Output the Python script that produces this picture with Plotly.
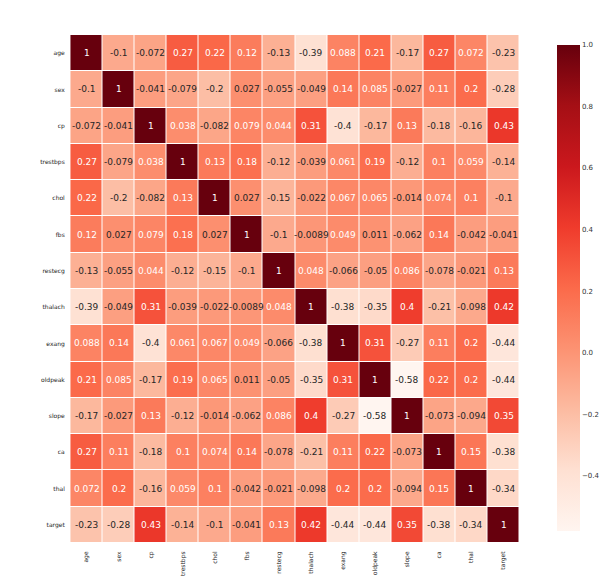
import plotly.graph_objects as go
import numpy as np

labels = ["age", "sex", "cp", "trestbps", "chol", "fbs", "restecg",
          "thalach", "exang", "oldpeak", "slope", "ca", "thal", "target"]

# upper-triangle rows (values to the right of the diagonal)
age      = [-0.1, -0.072, 0.27, 0.22, 0.12, -0.13, -0.39, 0.088, 0.21, -0.17, 0.27, 0.072, -0.23]
sex      = [-0.041, -0.079, -0.2, 0.027, -0.055, -0.049, 0.14, 0.085, -0.027, 0.11, 0.2, -0.28]
cp       = [0.038, -0.082, 0.079, 0.044, 0.31, -0.4, -0.17, 0.13, -0.18, -0.16, 0.43]
trestbps = [0.13, 0.18, -0.12, -0.039, 0.061, 0.19, -0.12, 0.1, 0.059, -0.14]
chol     = [0.027, -0.15, -0.022, 0.067, 0.065, -0.014, 0.074, 0.1, -0.1]
fbs      = [-0.1, -0.0089, 0.049, 0.011, -0.062, 0.14, -0.042, -0.041]
restecg  = [0.048, -0.066, -0.05, 0.086, -0.078, -0.021, 0.13]
thalach  = [-0.38, -0.35, 0.4, -0.21, -0.098, 0.42]
exang    = [0.31, -0.27, 0.11, 0.2, -0.44]
oldpeak  = [-0.58, 0.22, 0.2, -0.44]
slope    = [-0.073, -0.094, 0.35]
ca       = [0.15, -0.38]
thal     = [-0.34]

upper = [age, sex, cp, trestbps, chol, fbs, restecg, thalach, exang, oldpeak, slope, ca, thal, []]
n = len(labels)
M = np.eye(n)
for i, row in enumerate(upper):
    for k, v in enumerate(row):
        j = i + 1 + k
        M[i, j] = v
        M[j, i] = v

reds = ["#fff5f0", "#fee0d2", "#fcbba1", "#fc9272", "#fb6a4a",
        "#ef3b2c", "#cb181d", "#a50f15", "#67000d"]
colorscale = [[i / (len(reds) - 1), c] for i, c in enumerate(reds)]
zmin, zmax = float(M.min()), float(M.max())

def hex2rgb(h):
    return np.array([int(h[1:3], 16), int(h[3:5], 16), int(h[5:7], 16)]) / 255.0

stops = np.array([hex2rgb(c) for c in reds])

def cell_rgb(v):
    t = (v - zmin) / (zmax - zmin) * (len(reds) - 1)
    i = int(min(np.floor(t), len(reds) - 2))
    f = t - i
    return stops[i] * (1 - f) + stops[i + 1] * f

def lum(rgb):
    lin = np.where(rgb <= 0.03928, rgb / 12.92, ((rgb + 0.055) / 1.055) ** 2.4)
    return 0.2126 * lin[0] + 0.7152 * lin[1] + 0.0722 * lin[2]

fig = go.Figure(go.Heatmap(
    z=M, x=labels, y=labels, zmin=zmin, zmax=zmax,
    colorscale=colorscale, xgap=1, ygap=1, hoverongaps=False,
    colorbar=dict(
        thickness=23, len=506, lenmode="pixels", x=1.061, xanchor="left",
        y=1.0, yanchor="top", outlinewidth=0,
        tickvals=[-0.4, -0.2, 0.0, 0.2, 0.4, 0.6, 0.8, 1.0],
        ticktext=["\u22120.4", "\u22120.2", "0.0", "0.2", "0.4", "0.6", "0.8", "1.0"],
        ticks="", tickfont=dict(size=7, color="#333333", family="DejaVu Sans"),
    ),
))

annotations = []
for i in range(n):
    for j in range(n):
        v = M[i, j]
        txt = format(v, ".2g")
        col = "#262626" if lum(cell_rgb(v)) > 0.408 else "#ffffff"
        annotations.append(dict(x=labels[j], y=labels[i], text=txt, showarrow=False,
                                font=dict(size=9, color=col, family="DejaVu Sans")))

fig.update_layout(
    width=612, height=583,
    margin=dict(l=62, r=77, t=27, b=48),
    paper_bgcolor="white", plot_bgcolor="white",
    annotations=annotations,
    xaxis=dict(tickangle=-90, tickfont=dict(size=6, color="#222222", family="DejaVu Sans"),
               showgrid=False, zeroline=False, ticks="outside", ticklen=5,
               tickcolor="white"),
    yaxis=dict(autorange="reversed", tickfont=dict(size=6, color="#222222", family="DejaVu Sans"),
               showgrid=False, zeroline=False, ticks="outside", ticklen=3,
               tickcolor="white"),
)

fig.write_html("out.html")
